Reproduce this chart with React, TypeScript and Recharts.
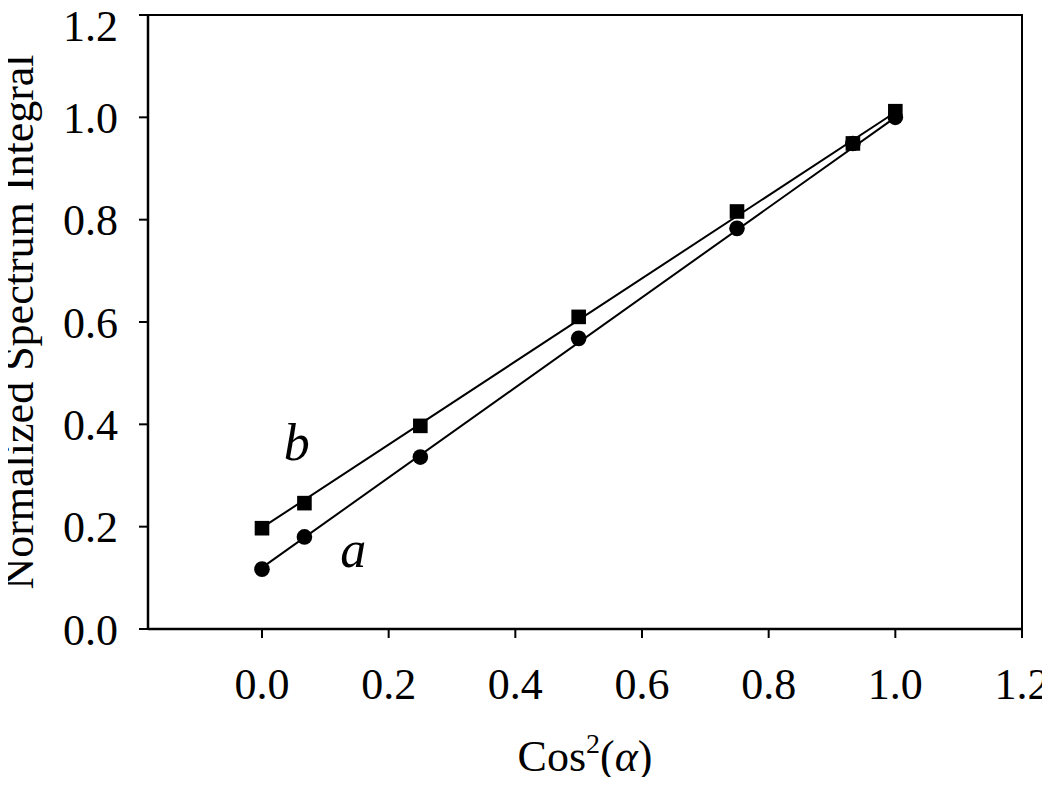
import { ComposedChart, Scatter, XAxis, YAxis, ReferenceArea, ReferenceDot } from "recharts";

// cos^2(alpha) values for the measured orientations
const cos2Values = [0, 0.067, 0.25, 0.5, 0.75, 0.933, 1.0];
const seriesA = [0.117, 0.18, 0.336, 0.568, 0.783, 0.949, 1.0];
const seriesB = [0.197, 0.246, 0.397, 0.61, 0.816, 0.949, 1.012];

// fitted straight lines, endpoints
const fitX = [0, 1];
const fitA = [0.12, 1.0];
const fitB = [0.198, 1.01];

const xTicks = [0, 0.2, 0.4, 0.6, 0.8, 1.0, 1.2];
const yTicks = [0, 0.2, 0.4, 0.6, 0.8, 1.0, 1.2];

const FONT = "'Liberation Serif', 'Times New Roman', serif";

const pointsA = cos2Values.map((x, i) => ({ x, y: seriesA[i] }));
const pointsB = cos2Values.map((x, i) => ({ x, y: seriesB[i] }));
const lineA = fitX.map((x, i) => ({ x, y: fitA[i] }));
const lineB = fitX.map((x, i) => ({ x, y: fitB[i] }));

const Circle = (props: any) => <circle cx={props.cx} cy={props.cy} r={7.8} fill="#000" />;
const Square = (props: any) => <rect x={props.cx - 7.3} y={props.cy - 7.3} width={14.6} height={14.6} fill="#000" />;
const NoShape = () => <g />;

const tickStyle = { fontSize: 44, fill: "#000", fontFamily: FONT };

export default function App() {
  return (
    <div style={{ width: 1050, height: 785, margin: -8, fontFamily: FONT, background: "#fff" }}>
      <ComposedChart width={1050} height={785} margin={{ top: 15, right: 28, bottom: 0, left: 0 }}>
        <XAxis
          type="number"
          dataKey="x"
          domain={[-0.18, 1.2]}
          ticks={xTicks}
          allowDataOverflow
          tickFormatter={(v: number) => v.toFixed(1)}
          tick={tickStyle}
          tickSize={9}
          tickMargin={30}
          height={156}
          axisLine={{ stroke: "#000", strokeWidth: 2.5 }}
          tickLine={{ stroke: "#000", strokeWidth: 2 }}
          label={({ viewBox }: any) => (
            <text
              x={viewBox.x + viewBox.width / 2}
              y={viewBox.y + 142}
              textAnchor="middle"
              fontSize={44}
              fontFamily={FONT}
              fill="#000"
            >
              Cos
              <tspan fontSize={28} dy={-18}>2</tspan>
              <tspan dy={18}>(</tspan>
              <tspan fontStyle="italic">α</tspan>
              <tspan>)</tspan>
            </text>
          )}
        />
        <YAxis
          type="number"
          dataKey="y"
          domain={[0, 1.2]}
          ticks={yTicks}
          allowDataOverflow
          tickFormatter={(v: number) => v.toFixed(1)}
          tick={tickStyle}
          tickSize={9}
          tickMargin={21}
          width={148}
          axisLine={{ stroke: "#000", strokeWidth: 2.5 }}
          tickLine={{ stroke: "#000", strokeWidth: 2 }}
          label={({ viewBox }: any) => (
            <text
              transform={`translate(33, ${viewBox.y + viewBox.height / 2}) rotate(-90)`}
              textAnchor="middle"
              fontSize={44}
              fontFamily={FONT}
              fill="#000"
            >
              Normalized Spectrum Integral
            </text>
          )}
        />
        <ReferenceArea x1={-0.18} x2={1.2} y1={0} y2={1.2} fill="none" stroke="#000" strokeWidth={2} ifOverflow="visible" />
        <Scatter data={lineB} line={{ stroke: "#000", strokeWidth: 2 }} shape={NoShape} isAnimationActive={false} />
        <Scatter data={lineA} line={{ stroke: "#000", strokeWidth: 2 }} shape={NoShape} isAnimationActive={false} />
        <Scatter data={pointsB} shape={Square} isAnimationActive={false} />
        <Scatter data={pointsA} shape={Circle} isAnimationActive={false} />
        <ReferenceDot
          x={0.055}
          y={0.365}
          r={0}
          stroke="none"
          fill="none"
          label={({ viewBox }: any) => (
            <text x={viewBox.x + viewBox.width / 2} y={viewBox.y + viewBox.height / 2 + 18} textAnchor="middle" fontSize={52} fontStyle="italic" fontFamily={FONT} fill="#000">
              b
            </text>
          )}
        />
        <ReferenceDot
          x={0.144}
          y={0.145}
          r={0}
          stroke="none"
          fill="none"
          label={({ viewBox }: any) => (
            <text x={viewBox.x + viewBox.width / 2} y={viewBox.y + viewBox.height / 2 + 12} textAnchor="middle" fontSize={52} fontStyle="italic" fontFamily={FONT} fill="#000">
              a
            </text>
          )}
        />
      </ComposedChart>
    </div>
  );
}
